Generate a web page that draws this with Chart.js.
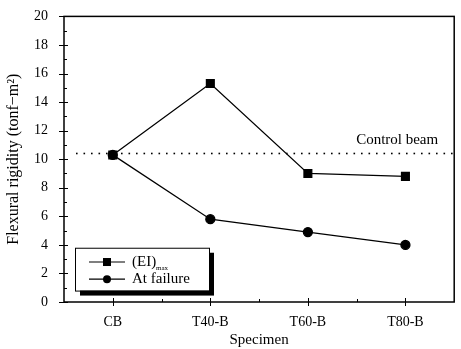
<!DOCTYPE html>
<html>
<head>
<meta charset="utf-8">
<script src="https://cdn.jsdelivr.net/npm/chart.js@4"></script>
<style>
  html, body { margin: 0; padding: 0; background: #fff; }
  #wrap { width: 461px; height: 349px; }
</style>
</head>
<body>
<div id="wrap"><canvas id="myChart" width="461" height="349"></canvas></div>
<script>
var specimens = ['CB', 'T40-B', 'T60-B', 'T80-B'];
var eiMax = [10.3, 15.3, 9.0, 8.8];
var atFailure = [10.3, 5.8, 4.9, 4.0];
var controlBeam = 10.4;
var yTicks = [0, 2, 4, 6, 8, 10, 12, 14, 16, 18, 20];

var serif = '"Liberation Serif", "DejaVu Serif", serif';

// ticks, frame, control line and boxed legend
var extras = {
    id: 'extras',
    afterDraw: function(chart) {
        var c = chart.ctx, a = chart.chartArea;
        var ys = chart.scales.y, xs = chart.scales.x;
        c.save();
        c.strokeStyle = '#000';
        c.lineWidth = 1.5;
        c.strokeRect(a.left, a.top, a.right - a.left, a.bottom - a.top);
        c.lineWidth = 1;
        for (var v = 0; v <= 20; v += 1) {
            var py = Math.round(ys.getPixelForValue(v)) + 0.5;
            c.beginPath();
            if (v % 2 === 0) { c.moveTo(a.left - 5, py); c.lineTo(a.left + 4, py); }
            else { c.moveTo(a.left, py); c.lineTo(a.left + 3, py); }
            c.stroke();
        }
        for (var i = 0; i < specimens.length; i++) {
            var px = Math.round(xs.getPixelForValue(i)) + 0.5;
            c.beginPath(); c.moveTo(px, a.bottom + 4); c.lineTo(px, a.bottom - 4); c.stroke();
            if (i < specimens.length - 1) {
                var mx = Math.round((xs.getPixelForValue(i) + xs.getPixelForValue(i + 1)) / 2) + 0.5;
                c.beginPath(); c.moveTo(mx, a.bottom); c.lineTo(mx, a.bottom - 3); c.stroke();
            }
        }
        // control beam dotted line
        var cy = ys.getPixelForValue(controlBeam);
        c.fillStyle = '#000';
        for (var x = a.left + 12; x < a.right; x += 7.5) {
            c.fillRect(x, cy - 0.8, 1.6, 1.6);
        }
        c.font = '15px ' + serif;
        c.textAlign = 'right';
        c.textBaseline = 'alphabetic';
        c.fillText('Control beam', a.right - 16, cy - 9);

        // legend box with shadow
        var lx = a.left + 11, ly = ys.getPixelForValue(3.8), lw = 134, lh = ys.getPixelForValue(0.8) - ly;
        c.fillRect(lx + 5, ly + 5, lw, lh);
        c.fillStyle = '#fff';
        c.fillRect(lx, ly, lw, lh);
        c.lineWidth = 1;
        c.strokeRect(lx + 0.5, ly + 0.5, lw, lh);
        var rows = [
            { y: ys.getPixelForValue(2.8), ds: chart.data.datasets[0] },
            { y: ys.getPixelForValue(1.6), ds: chart.data.datasets[1] }
        ];
        rows.forEach(function(r, k) {
            c.strokeStyle = '#000';
            c.lineWidth = 1.2;
            c.beginPath(); c.moveTo(lx + 14, r.y); c.lineTo(lx + 50, r.y); c.stroke();
            c.fillStyle = '#000';
            if (k === 0) c.fillRect(lx + 28, r.y - 4, 8, 8);
            else { c.beginPath(); c.arc(lx + 32, r.y, 4, 0, Math.PI * 2); c.fill(); }
            c.textAlign = 'left';
            c.textBaseline = 'middle';
            c.font = '15px ' + serif;
            if (k === 0) {
                c.fillText('(EI)', lx + 57, r.y);
                c.font = '7px ' + serif;
                c.fillText('max', lx + 81, r.y + 6);
            } else {
                c.fillText(r.ds.label, lx + 57, r.y);
            }
        });
        c.restore();
    }
};

var ctx = document.getElementById('myChart').getContext('2d');
var myChart = new Chart(ctx, {
    type: 'line',
    data: {
        labels: specimens,
        datasets: [{
            label: '(EI)max',
            data: eiMax,
            borderColor: '#000',
            backgroundColor: '#000',
            borderWidth: 1.3,
            pointStyle: 'rect',
            pointRadius: 5.5,
            tension: 0
        }, {
            label: 'At failure',
            data: atFailure,
            borderColor: '#000',
            backgroundColor: '#000',
            borderWidth: 1.3,
            pointStyle: 'circle',
            pointRadius: 4.5,
            tension: 0
        }]
    },
    plugins: [extras],
    options: {
        responsive: false,
        animation: false,
        layout: { padding: { top: 12, right: 4, left: 4, bottom: 0 } },
        plugins: { legend: { display: false }, tooltip: { enabled: false } },
        scales: {
            x: {
                offset: true,
                grid: { display: false },
                border: { display: false },
                ticks: { color: '#000', font: { family: serif, size: 14 }, padding: 4, maxRotation: 0 },
                title: { display: true, text: 'Specimen', color: '#000', font: { family: serif, size: 15 }, padding: { top: 2, bottom: 0 } },
                afterFit: function(s) { s.height = 47; }
            },
            y: {
                min: 0, max: 20,
                afterBuildTicks: function(s) { s.ticks = yTicks.map(function(v) { return { value: v }; }); },
                grid: { display: false },
                border: { display: false },
                ticks: { color: '#000', font: { family: serif, size: 14 }, padding: 8 },
                title: { display: true, text: 'Flexural rigidity (tonf\u2212m\u00B2)', color: '#000', font: { family: serif, size: 16 }, padding: { top: 0, bottom: 2 } },
                afterFit: function(s) { s.width = 60; }
            }
        }
    }
});
</script>
</body>
</html>
